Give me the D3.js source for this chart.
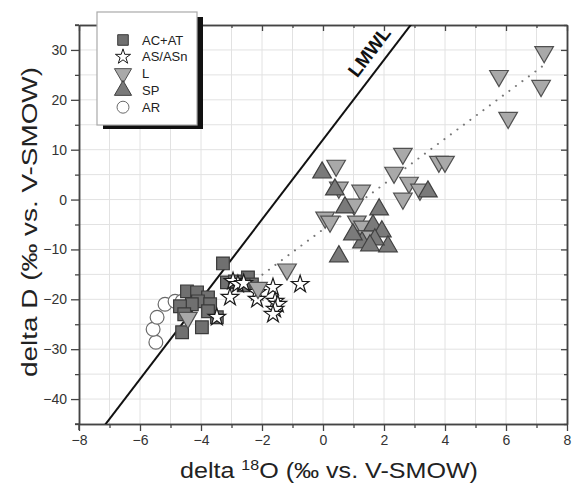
<!DOCTYPE html>
<html>
<head>
<meta charset="utf-8">
<script src="https://cdn.jsdelivr.net/npm/d3@7"></script>
<style>
  html, body { margin: 0; padding: 0; background: #fff; }
  svg { display: block; font-family: "Liberation Sans", Arial, sans-serif; }
</style>
</head>
<body>
<svg id="chart" width="575" height="487"></svg>
<script>
// Isotope samples: [delta 18O, delta D] pairs per water type
const seriesNames = ["AC+AT", "AS/ASn", "L", "SP", "AR"];

const acat = [
  [-3.28, -12.8], [-3.15, -16.6], [-2.89, -16.4], [-2.46, -15.6], [-2.33, -17.0],
  [-2.6, -17.2], [-4.46, -18.4], [-4.13, -18.6], [-3.77, -19.6], [-4.1, -20.4],
  [-4.3, -21.0], [-4.69, -21.4], [-3.7, -21.0], [-3.48, -23.6], [-3.97, -25.6],
  [-4.62, -26.6], [-3.77, -22.4], [-4.55, -23.0]
];

const asasn = [
  [-2.95, -16.4], [-2.79, -17.0], [-3.05, -19.6], [-2.6, -16.8], [-2.16, -18.6],
  [-1.64, -17.6], [-0.75, -17.0], [-2.16, -20.0], [-1.57, -20.4], [-1.48, -21.0],
  [-1.57, -22.0], [-1.64, -23.0], [-3.48, -23.6]
];

const lake = [
  [7.25, 29.6], [7.15, 22.8], [5.77, 24.8], [6.07, 16.4], [3.8, 7.6], [4.0, 7.6],
  [2.62, 9.2], [0.43, 6.8], [0.52, 2.4], [1.25, 1.8], [2.33, 5.4], [2.82, 3.4],
  [3.18, 2.0], [2.62, 0.2], [1.02, -1.0], [0.07, -3.6], [0.23, -4.4], [1.11, -4.4],
  [1.31, -5.4], [1.44, -7.3], [-1.18, -14.0], [-2.13, -17.7], [-4.43, -23.7]
];

const spring = [
  [-0.03, 5.4], [0.39, 2.0], [0.72, -1.6], [1.84, -2.0], [3.44, 1.6], [1.64, -5.2],
  [1.93, -6.4], [1.28, -8.6], [0.98, -7.0], [2.13, -9.4], [0.52, -11.4],
  [1.7, -8.0], [1.54, -9.2]
];

const rain = [
  [-5.48, -28.6], [-5.57, -26.0], [-5.44, -23.6], [-5.18, -21.0], [-4.85, -20.4],
  [-4.62, -20.4]
];

// Local meteoric water line and evaporation trend
const lmwl = { slope: 8, intercept: 12 };
const trend = { slope: 4.55, intercept: -6, from: -2.2, to: 7.3 };

const xTickValues = [-8, -6, -4, -2, 0, 2, 4, 6, 8];
const yTickValues = [-40, -30, -20, -10, 0, 10, 20, 30];

const svg = d3.select("#chart");
const pLeft = 79, pRight = 567, pTop = 25, pBottom = 424;

const x = d3.scaleLinear().domain([-8, 8]).range([pLeft, pRight]);
const y = d3.scaleLinear().domain([-45, 35]).range([pBottom, pTop]);

// grid
const grid = svg.append("g");
grid.selectAll("line.gx").data(d3.range(-7, 8, 1)).join("line")
  .attr("x1", d => x(d)).attr("x2", d => x(d))
  .attr("y1", pTop).attr("y2", pBottom)
  .attr("stroke", "#e2e2e2").attr("stroke-width", 1);
grid.selectAll("line.gy").data(d3.range(-40, 35, 5)).join("line")
  .attr("y1", d => y(d)).attr("y2", d => y(d))
  .attr("x1", pLeft).attr("x2", pRight)
  .attr("stroke", "#e2e2e2").attr("stroke-width", 1);

svg.append("clipPath").attr("id", "plotclip")
  .append("rect").attr("x", pLeft).attr("y", pTop)
  .attr("width", pRight - pLeft).attr("height", pBottom - pTop);

// axes (outer ticks on left/bottom, inner ticks on top/right)
function styleAxis(g) {
  g.selectAll("path.domain").attr("stroke", "#444").attr("stroke-width", 1.5);
  g.selectAll(".tick line").attr("stroke", "#444").attr("stroke-width", 1.3);
  g.selectAll(".tick text").attr("fill", "#333").style("font-size", "14px")
    .style("font-family", "'Liberation Sans', Arial, sans-serif");
}
const minorX = d3.range(-7, 8, 2);
const minorY = d3.range(-45, 36, 10);

const gB = svg.append("g").attr("transform", `translate(0,${pBottom})`)
  .call(d3.axisBottom(x).tickValues(xTickValues).tickSize(7).tickSizeOuter(0).tickPadding(4).tickFormat(d3.format("d")));
const gBm = svg.append("g").attr("transform", `translate(0,${pBottom})`)
  .call(d3.axisBottom(x).tickValues(minorX).tickSize(4).tickSizeOuter(0).tickFormat(""));
const gL = svg.append("g").attr("transform", `translate(${pLeft},0)`)
  .call(d3.axisLeft(y).tickValues(yTickValues).tickSize(8).tickSizeOuter(0).tickPadding(4).tickFormat(d3.format("d")));
const gLm = svg.append("g").attr("transform", `translate(${pLeft},0)`)
  .call(d3.axisLeft(y).tickValues(minorY).tickSize(4).tickSizeOuter(0).tickFormat(""));
const gT = svg.append("g").attr("transform", `translate(0,${pTop})`)
  .call(d3.axisTop(x).tickValues(xTickValues).tickSize(-6).tickSizeOuter(0).tickFormat(""));
const gTm = svg.append("g").attr("transform", `translate(0,${pTop})`)
  .call(d3.axisTop(x).tickValues(minorX).tickSize(-3).tickSizeOuter(0).tickFormat(""));
const gR = svg.append("g").attr("transform", `translate(${pRight},0)`)
  .call(d3.axisRight(y).tickValues(yTickValues).tickSize(-6).tickSizeOuter(0).tickFormat(""));
const gRm = svg.append("g").attr("transform", `translate(${pRight},0)`)
  .call(d3.axisRight(y).tickValues(minorY).tickSize(-3).tickSizeOuter(0).tickFormat(""));
[gB, gBm, gL, gLm, gT, gTm, gR, gRm].forEach(styleAxis);

// small overhang where the frame lines cross at the corners
svg.append("line").attr("x1", pLeft - 4).attr("x2", pLeft).attr("y1", pTop).attr("y2", pTop)
  .attr("stroke", "#444").attr("stroke-width", 1.5);
svg.append("line").attr("x1", pLeft - 4).attr("x2", pLeft).attr("y1", pBottom).attr("y2", pBottom)
  .attr("stroke", "#444").attr("stroke-width", 1.5);
svg.append("line").attr("x1", pLeft).attr("x2", pLeft).attr("y1", pBottom).attr("y2", pBottom + 6)
  .attr("stroke", "#444").attr("stroke-width", 1.5);

// axis titles
svg.append("text")
  .attr("transform", `translate(37,${y(-4.5)}) rotate(-90)`)
  .attr("text-anchor", "middle")
  .attr("fill", "#222")
  .attr("textLength", 310).attr("lengthAdjust", "spacingAndGlyphs")
  .style("font-size", "22px")
  .text("delta D (‰ vs. V-SMOW)");

const xt = svg.append("text")
  .attr("x", 180).attr("y", 478)
  .attr("fill", "#222")
  .attr("textLength", 298).attr("lengthAdjust", "spacingAndGlyphs")
  .style("font-size", "22px");
xt.append("tspan").text("delta ");
xt.append("tspan").attr("dy", -8).style("font-size", "14px").text("18");
xt.append("tspan").attr("dy", 8).text("O (‰ vs. V-SMOW)");

// lines
const plot = svg.append("g").attr("clip-path", "url(#plotclip)");
plot.append("line")
  .attr("x1", x(-8)).attr("y1", y(lmwl.slope * -8 + lmwl.intercept))
  .attr("x2", x(8)).attr("y2", y(lmwl.slope * 8 + lmwl.intercept))
  .attr("stroke", "#111").attr("stroke-width", 2);

plot.append("line")
  .attr("x1", x(trend.from)).attr("y1", y(trend.slope * trend.from + trend.intercept))
  .attr("x2", x(trend.to)).attr("y2", y(trend.slope * trend.to + trend.intercept))
  .attr("stroke", "#777").attr("stroke-width", 2)
  .attr("stroke-linecap", "round").attr("stroke-dasharray", "0.1,8");

// LMWL label along the line
const lx = 1.95, ly = lmwl.slope * lx + lmwl.intercept;
const ang = Math.atan2(y(ly + lmwl.slope) - y(ly), x(lx + 1) - x(lx)) * 180 / Math.PI;
svg.append("text")
  .attr("transform", `translate(${x(lx)},${y(ly)}) rotate(${ang}) translate(0,-10)`)
  .attr("text-anchor", "middle")
  .attr("fill", "#111")
  .style("font-size", "19px").style("font-weight", "bold")
  .text("LMWL");

// markers
const styles = {
  "AC+AT": { type: d3.symbolSquare, size: 160, rot: 0, fill: "#707070", stroke: "#3a3a3a" },
  "AS/ASn": { type: d3.symbolStar, size: 95, rot: 0, fill: "#ffffff", stroke: "#1a1a1a" },
  "L": { type: d3.symbolTriangle, size: 150, rot: 180, fill: "#a9a9a9", stroke: "#505050" },
  "SP": { type: d3.symbolTriangle, size: 150, rot: 0, fill: "#7a7a7a", stroke: "#404040" },
  "AR": { type: d3.symbolCircle, size: 150, rot: 0, fill: "#ffffff", stroke: "#6a6a6a" }
};
const seriesData = { "AC+AT": acat, "AS/ASn": asasn, "L": lake, "SP": spring, "AR": rain };
const drawOrder = ["AR", "AC+AT", "AS/ASn", "L", "SP"];

drawOrder.forEach(name => {
  const st = styles[name];
  const sym = d3.symbol().type(st.type).size(st.size);
  svg.append("g").selectAll("path").data(seriesData[name]).join("path")
    .attr("d", sym)
    .attr("transform", d => `translate(${x(d[0])},${y(d[1])}) rotate(${st.rot})`)
    .attr("fill", st.fill).attr("stroke", st.stroke).attr("stroke-width", 1.2);
});

// legend
const lg = svg.append("g");
lg.append("rect").attr("x", 103).attr("y", 17).attr("width", 100).attr("height", 112).attr("fill", "#111");
lg.append("rect").attr("x", 97).attr("y", 12).attr("width", 100).attr("height", 113)
  .attr("fill", "#fff").attr("stroke", "#aaa").attr("stroke-width", 1.2);
const legendScale = { "AC+AT": 0.7, "AS/ASn": 0.75, "L": 0.85, "SP": 0.85, "AR": 0.75 };
seriesNames.forEach((name, i) => {
  const st = styles[name];
  const cy = 40 + i * 16.8;
  lg.append("path")
    .attr("d", d3.symbol().type(st.type).size(st.size * legendScale[name]))
    .attr("transform", `translate(123,${cy}) rotate(${st.rot})`)
    .attr("fill", st.fill).attr("stroke", st.stroke).attr("stroke-width", 1);
  lg.append("text").attr("x", 142).attr("y", cy + 4.5)
    .attr("fill", "#222").style("font-size", "13px").text(name);
});
</script>
</body>
</html>
